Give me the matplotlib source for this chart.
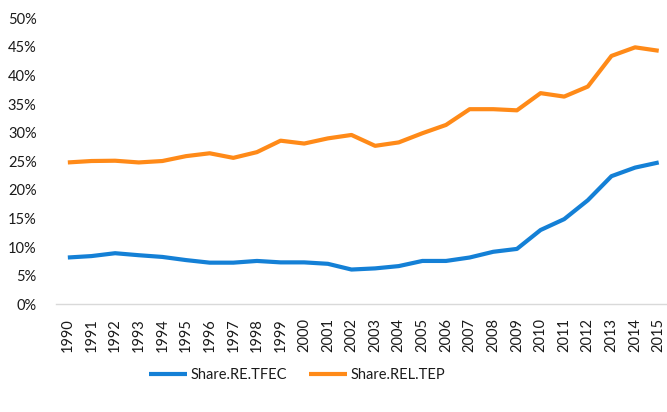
import matplotlib
matplotlib.use("Agg")
import matplotlib.pyplot as plt
from matplotlib.ticker import PercentFormatter

years = [str(y) for y in range(1990, 2016)]
share_re_tfec = [8.2, 8.45, 8.95, 8.6, 8.3, 7.75, 7.3, 7.3, 7.6, 7.35, 7.35, 7.1,
                 6.1, 6.3, 6.7, 7.6, 7.6, 8.2, 9.2, 9.7, 13.0, 14.9, 18.2, 22.4, 23.9, 24.8]
share_rel_tep = [24.8, 25.05, 25.1, 24.8, 25.05, 25.9, 26.4, 25.6, 26.6, 28.6, 28.1, 29.0,
                 29.6, 27.7, 28.3, 29.9, 31.35, 34.1, 34.1, 33.9, 36.9, 36.3, 38.05, 43.4, 44.9, 44.3]

plt.rcParams['font.family'] = ['Lato', 'DejaVu Sans']

fig = plt.figure(figsize=(6.67, 4.12), dpi=100)
ax = fig.add_axes([0.084, 0.261, 0.916, 0.695])

x = list(range(len(years)))
ax.plot(x, share_re_tfec, color='#1480D6', lw=3, label='Share.RE.TFEC', solid_capstyle='butt')
ax.plot(x, share_rel_tep, color='#FF8A18', lw=3, label='Share.REL.TEP', solid_capstyle='butt')

ax.set_ylim(0, 50)
ax.set_xlim(-0.5, 25.35)
ax.set_yticks(range(0, 51, 5))
ax.yaxis.set_major_formatter(PercentFormatter(decimals=0))
ax.set_xticks(x)
ax.set_xticklabels(years, rotation=90)
ax.tick_params(axis='both', length=0, labelsize=10.5, colors='#1a1a1a')
ax.tick_params(axis='y', pad=14)
ax.tick_params(axis='x', pad=10)
for s in ['top', 'right', 'left']:
    ax.spines[s].set_visible(False)
ax.spines['bottom'].set_color('#d9d9d9')
ax.spines['bottom'].set_linewidth(1)

fig.legend(loc='center', bbox_to_anchor=(0.445, 0.09), ncol=2, frameon=False,
           fontsize=10.5, handlelength=2.6, columnspacing=1.5, handletextpad=0.25,
           labelcolor='#1a1a1a')

fig.savefig('out.png', dpi=100)
